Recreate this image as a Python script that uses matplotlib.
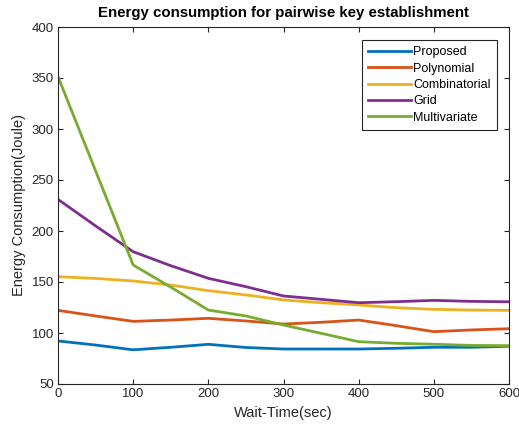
import matplotlib
matplotlib.use("Agg")
import matplotlib.pyplot as plt

wait_time = [0, 50, 100, 150, 200, 250, 300, 350, 400, 450, 500, 550, 600]
proposed = [92.2, 88.2, 83.5, 86, 88.9, 85.8, 84.3, 84.3, 84.3, 85, 86, 86, 87]
polynomial = [122.2, 116.7, 111.4, 112.7, 114.4, 111.8, 108.8, 110.5, 112.7, 107.2, 101.3, 103, 104.2]
combinatorial = [155.2, 153.5, 151, 147, 141.5, 137.3, 132.4, 129.7, 127.5, 124.8, 123.2, 122.5, 122.2]
grid = [231, 205, 179.7, 166, 153.6, 145.4, 136.3, 133, 129.7, 130.7, 132, 131, 130.6]
multivariate = [351.3, 259, 166.7, 145, 122.5, 116.7, 107.8, 99.7, 91.5, 89.9, 89, 87.8, 87.6]

series = [
    ("Proposed", proposed, "#0072BD"),
    ("Polynomial", polynomial, "#D95319"),
    ("Combinatorial", combinatorial, "#EDB120"),
    ("Grid", grid, "#7E2F8E"),
    ("Multivariate", multivariate, "#77AC30"),
]

plt.rcParams['font.family'] = ['Liberation Sans', 'DejaVu Sans']
fig = plt.figure(figsize=(5.19, 4.29), dpi=100)
ax = fig.add_axes([58/519, 1-384/429, 451/519, 357/429])

for name, vals, color in series:
    ax.plot(wait_time, vals, color=color, linewidth=2.0, label=name)

ax.set_xlim(0, 600)
ax.set_ylim(50, 400)
ax.set_xticks(range(0, 601, 100))
ax.set_yticks(range(50, 401, 50))
ax.tick_params(direction='in', top=True, right=True, length=3.5, width=0.8,
               labelsize=9.5, colors='#262626', pad=3)
for s in ax.spines.values():
    s.set_color('#262626')
    s.set_linewidth(0.8)

ax.set_title("Energy consumption for pairwise key establishment",
             fontsize=10.8, fontweight='bold', pad=7)
ax.set_xlabel("Wait-Time(sec)", fontsize=10.5, color='#262626', labelpad=4)
ax.set_ylabel("Energy Consumption(Joule)", fontsize=10.5, color='#262626', labelpad=4)

leg = ax.legend(loc='upper right', bbox_to_anchor=((497-58)/451, 1-(40-27)/357),
                borderaxespad=0, fontsize=9, handlelength=3.4, handletextpad=0.2,
                labelspacing=0.35, fancybox=False, framealpha=1, borderpad=0.5)
leg.get_frame().set_edgecolor('#262626')
leg.get_frame().set_linewidth(0.8)

fig.savefig("out.png", dpi=100)
